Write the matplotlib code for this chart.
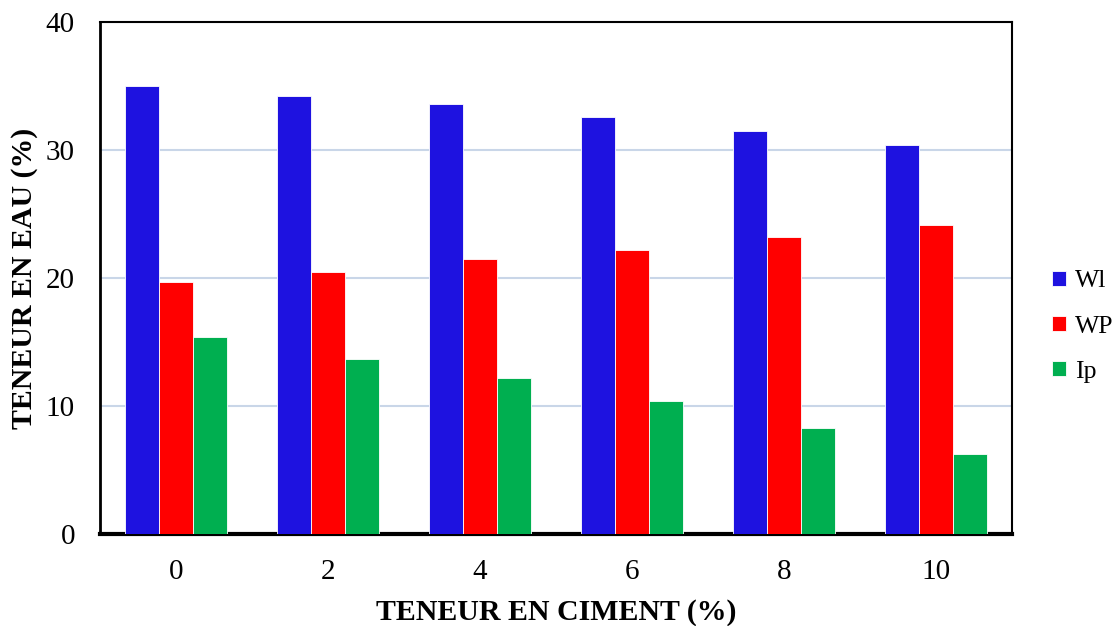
import numpy as np
import matplotlib
matplotlib.use("Agg")
import matplotlib.pyplot as plt

# Données
ciment = ["0", "2", "4", "6", "8", "10"]
wl = [35.0, 34.2, 33.6, 32.6, 31.5, 30.4]
wp = [19.65, 20.5, 21.45, 22.2, 23.2, 24.1]
ip = [15.35, 13.7, 12.15, 10.35, 8.25, 6.25]

series = [("Wl", wl, "#1E12E0"), ("WP", wp, "#FF0000"), ("Ip", ip, "#00AF50")]

plt.rcParams["font.family"] = ["Liberation Serif", "DejaVu Serif"]

fig = plt.figure(figsize=(11.16, 6.26), dpi=100)
ax = fig.add_axes([0.0896, 0.147, 0.8175, 0.818])

x = np.arange(len(ciment))
largeur = 0.224
for i, (nom, valeurs, couleur) in enumerate(series):
    ax.bar(x + (i - 1) * largeur, valeurs, largeur, color=couleur,
           edgecolor="white", linewidth=0.6, label=nom, zorder=3)

ax.set_xlim(-0.5, len(ciment) - 0.5)
ax.set_ylim(0, 40)
ax.set_yticks([0, 10, 20, 30, 40])
ax.set_xticks(x)
ax.set_xticklabels(ciment)
ax.tick_params(axis="both", length=0, labelsize=21)
ax.tick_params(axis="x", pad=18)
ax.tick_params(axis="y", pad=18)
ax.yaxis.grid(True, color="#C9D6E8", linewidth=1.5, zorder=0)

for cote in ["top", "right"]:
    ax.spines[cote].set_linewidth(1.5)
ax.spines["left"].set_linewidth(2)
ax.spines["bottom"].set_linewidth(3)

ax.set_xlabel("TENEUR EN CIMENT (%)", fontsize=21.5, fontweight="bold", labelpad=10)
ax.set_ylabel("TENEUR EN EAU (%)", fontsize=21.5, fontweight="bold", labelpad=6)

ax.legend(loc="center left", bbox_to_anchor=(1.032, 0.405), frameon=False,
          fontsize=18.5, handlelength=0.55, handleheight=0.55, handletextpad=0.35,
          labelspacing=0.9, borderaxespad=0)

fig.savefig("out.png", dpi=100)
